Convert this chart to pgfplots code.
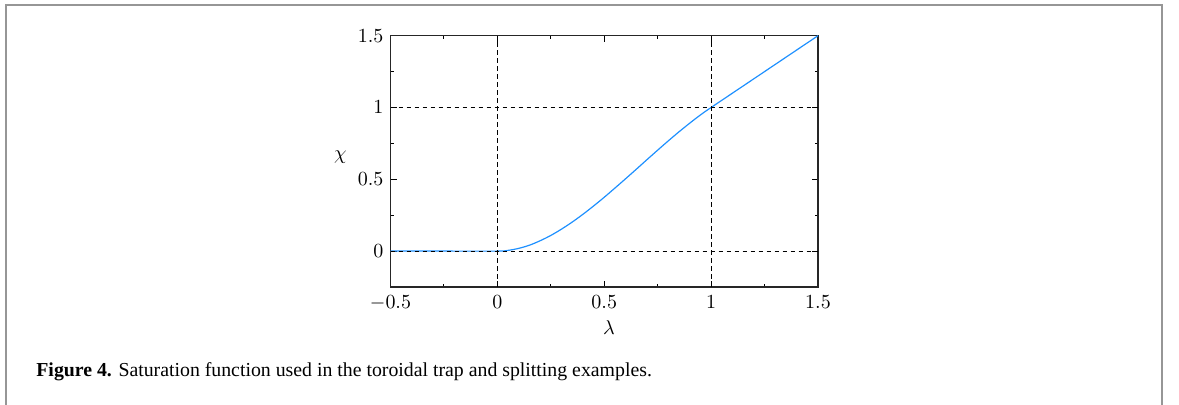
\documentclass[border=0pt]{standalone}
\usepackage{fontspec}
\setmainfont{Liberation Serif}
\usepackage{pgfplots}
\pgfplotsset{compat=1.18}
\definecolor{curveblue}{RGB}{30,144,255}
\definecolor{framegray}{RGB}{150,150,150}
\begin{document}
\begin{tikzpicture}
\useasboundingbox (0,0) rectangle (589.5pt,202.5pt);
\draw[framegray, line width=1.1pt] (3pt,0pt) -- (3pt,200pt) -- (581pt,200pt) -- (581pt,0pt);
\begin{axis}[
  at={(195.25pt,59pt)}, anchor=south west,
  scale only axis, width=213.75pt, height=125.65pt,
  xmin=-0.5, xmax=1.5, ymin=-0.25, ymax=1.5,
  xtick={-0.5,0,0.5,1,1.5}, ytick={0,0.5,1,1.5},
  minor xtick={-0.25,0.25,0.75,1.25},
  minor ytick={-0.25,0.25,0.75,1.25},
  tick align=inside, tick pos=both,
  major tick length=3pt, minor tick length=1.6pt,
  every tick/.style={black, line width=0.5pt},
  axis line style={line width=0.7pt, black!85},
  tick label style={font=\fontsize{9.6}{11}\selectfont},
  xticklabel style={yshift=-1pt},
  xlabel={$\lambda$}, ylabel={$\chi$},
  label style={font=\fontsize{9.6}{11}\selectfont},
  xlabel style={at={(axis description cs:0.511,-0.163)}, anchor=center},
  ylabel style={rotate=-90, at={(axis description cs:-0.117,0.517)}, anchor=center},
  clip=false,
]
\addplot[curveblue, line width=0.6pt, smooth, tension=0.5] coordinates {
 (-0.5,0) (-0.25,0) (0,0) (0.05,0.005) (0.1,0.019) (0.15,0.041) (0.2,0.072)
 (0.25,0.109) (0.3,0.153) (0.35,0.202) (0.4,0.256) (0.45,0.314) (0.5,0.375)
 (0.55,0.439) (0.6,0.504) (0.65,0.570) (0.7,0.637) (0.75,0.703) (0.8,0.768)
 (0.85,0.831) (0.9,0.891) (0.95,0.948) (1.0,1.0) (1.25,1.25) (1.5,1.5)
};
\addplot[black, line width=0.45pt, dash pattern=on 2.4pt off 1.6pt] coordinates {(0,-0.25) (0,1.5)};
\addplot[black, line width=0.45pt, dash pattern=on 2.4pt off 1.6pt] coordinates {(1,-0.25) (1,1.5)};
\addplot[black, line width=0.45pt, dash pattern=on 2.4pt off 1.6pt] coordinates {(-0.5,0) (1.5,0)};
\addplot[black, line width=0.45pt, dash pattern=on 2.4pt off 1.6pt] coordinates {(-0.5,1) (1.5,1)};
\end{axis}
\node[anchor=base west, inner sep=0pt, font=\fontsize{9.9}{12}\selectfont] at (18pt,14pt)
  {\textbf{Figure 4.} Saturation function used in the toroidal trap and splitting examples.};
\end{tikzpicture}
\end{document}
